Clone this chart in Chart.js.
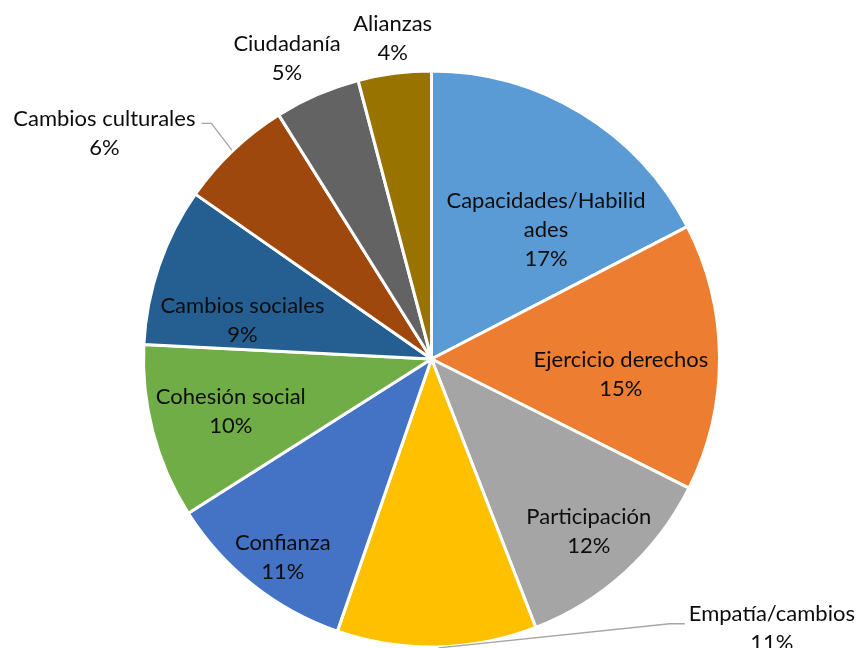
<!DOCTYPE html>
<html>
<head>
<meta charset="utf-8">
<script src="https://cdn.jsdelivr.net/npm/chart.js@4"></script>
<style>
  html, body { margin: 0; padding: 0; background: #ffffff; }
  #wrap { width: 857px; height: 648px; position: relative; overflow: hidden; }
</style>
</head>
<body>
<div id="wrap"><canvas id="c" width="857" height="648"></canvas></div>
<script>
// ---- data ----
const categories = [
  'Capacidades/Habilidades', 'Ejercicio derechos', 'Participación', 'Empatía/cambios',
  'Confianza', 'Cohesión social', 'Cambios sociales', 'Cambios culturales',
  'Ciudadanía', 'Alianzas'
];
const values = [17.4, 15.0, 11.7, 11.2, 10.7, 9.8, 8.9, 6.4, 4.8, 4.1];
const colors = ['#5B9BD5', '#ED7D31', '#A5A5A5', '#FFC000', '#4472C4',
                '#70AD47', '#255E91', '#9E480E', '#636363', '#997300'];

// ---- label layout (angle in degrees clockwise from top, dist as fraction of radius) ----
const placement = [
  { angle: 41.5,  dist: 0.60, maxW: 200 },
  { angle: 94.8,  dist: 0.66, maxW: 200 },
  { angle: 137.6, dist: 0.81, maxW: 200 },
  { angle: 128.4, dist: 1.508, maxW: 200, leader: { startAngle: 178.6, side: 'left', dy: -5, elbow: 15, gap: 4 } },
  { angle: 216.9, dist: 0.86, maxW: 200 },
  { angle: 255.4, dist: 0.72, maxW: 200 },
  { angle: 281.5, dist: 0.67, maxW: 200 },
  { angle: 304.6, dist: 1.38, maxW: 200, leader: { startAngle: 316.3, side: 'right', dy: -10, elbow: 10, gap: 6 } },
  { angle: 334.3, dist: 1.157, maxW: 200 },
  { angle: 353.1, dist: 1.123, maxW: 200 }
];
const FONT = '22px Lato, "Open Sans", sans-serif';
const LINE_H = 29;

function wrapText(ctx, text, maxW) {
  const words = text.split(' ');
  const lines = [];
  let cur = '';
  const pushWord = (w) => {
    let piece = '';
    for (const ch of w) {
      if (ctx.measureText(piece + ch).width > maxW && piece) {
        lines.push(piece); piece = ch;
      } else piece += ch;
    }
    return piece;
  };
  for (const w of words) {
    const test = cur ? cur + ' ' + w : w;
    if (ctx.measureText(test).width <= maxW) { cur = test; continue; }
    if (cur) lines.push(cur);
    cur = ctx.measureText(w).width > maxW ? pushWord(w) : w;
  }
  if (cur) lines.push(cur);
  return lines;
}

const labelPlugin = {
  id: 'sliceLabels',
  afterDatasetsDraw(chart) {
    const ctx = chart.ctx;
    const meta = chart.getDatasetMeta(0);
    const total = values.reduce((a, b) => a + b, 0);
    ctx.save();
    ctx.font = FONT;
    ctx.textAlign = 'center';
    ctx.textBaseline = 'middle';
    meta.data.forEach((arc, i) => {
      const { x, y, outerRadius } = arc.getProps(['x', 'y', 'outerRadius'], true);
      const p = placement[i];
      const a = (p.angle - 90) * Math.PI / 180;
      const lx = x + Math.cos(a) * p.dist * outerRadius;
      const ly = y + Math.sin(a) * p.dist * outerRadius;
      const lines = wrapText(ctx, categories[i], p.maxW);
      lines.push(Math.round(values[i] / total * 100) + '%');
      if (p.leader) {
        const L = p.leader;
        const sa = (L.startAngle - 90) * Math.PI / 180;
        const sx = x + Math.cos(sa) * (outerRadius + 1);
        const sy = y + Math.sin(sa) * (outerRadius + 1);
        const firstW = ctx.measureText(lines[0]).width;
        const ey = ly + L.dy;
        let ex, bx;
        if (L.side === 'left') { ex = lx - firstW / 2 - L.gap; bx = ex - L.elbow; }
        else { ex = lx + firstW / 2 + L.gap; bx = ex + L.elbow; }
        ctx.strokeStyle = '#A6A6A6';
        ctx.lineWidth = 1.3;
        ctx.beginPath();
        ctx.moveTo(sx, sy);
        ctx.lineTo(bx, ey);
        ctx.lineTo(ex, ey);
        ctx.stroke();
      }
      ctx.fillStyle = '#0d0d0d';
      lines.forEach((t, k) => {
        ctx.fillText(t, lx, ly + (k - (lines.length - 1) / 2) * LINE_H);
      });
    });
    ctx.restore();
  }
};

new Chart(document.getElementById('c'), {
  type: 'pie',
  data: {
    labels: categories,
    datasets: [{
      data: values,
      backgroundColor: colors,
      borderColor: '#ffffff',
      borderWidth: 3
    }]
  },
  options: {
    responsive: false,
    animation: false,
    radius: 288,
    layout: { padding: { left: 6, right: 0, top: 70, bottom: 0 } },
    plugins: {
      legend: { display: false },
      tooltip: { enabled: false }
    }
  },
  plugins: [labelPlugin]
});
</script>
</body>
</html>
